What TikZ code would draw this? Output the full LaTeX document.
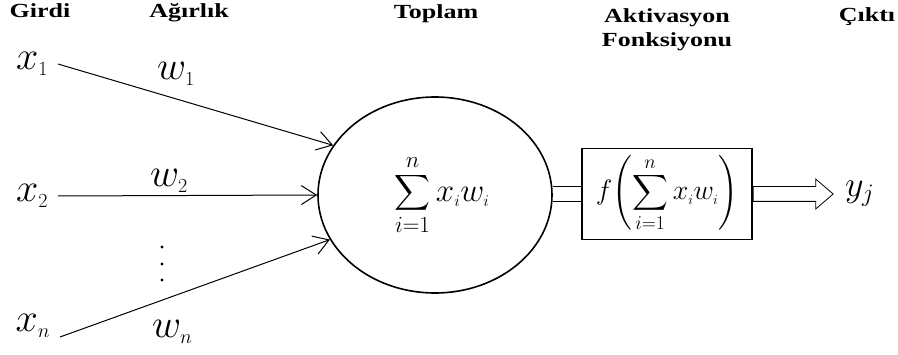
\RequirePackage{fix-cm}
\documentclass[tikz,border=0pt]{standalone}
\usepackage{exscale}
\usepackage{fontspec}
\newfontfamily\hdrfont[FakeStretch=1.3]{Liberation Serif}
\usetikzlibrary{arrows.meta, positioning, shapes.geometric, shapes.arrows}

\begin{document}
\begin{tikzpicture}[x=1pt, y=1pt, >={Straight Barb[length=15pt, width=19pt]},
  hdr/.style={font=\hdrfont\bfseries\fontsize{20}{24}\selectfont, inner sep=0pt},
  big/.style={font=\fontsize{40}{48}\selectfont, inner sep=0pt},
  inlbl/.style={big, anchor=east, outer xsep=10pt, outer ysep=0pt},
  wlbl/.style={big, anchor=base west},
  sumtxt/.style={font=\fontsize{33}{40}\selectfont},
  link/.style={draw=black, line width=0.8pt}]
  \useasboundingbox (0,0) rectangle (898,354);
  % column titles
  \node[hdr, anchor=base] (girdi) at (40,336) {Girdi};
  \node[hdr, anchor=base] (agirlik) at (189,336) {Ağırlık};
  \node[hdr, anchor=base] (toplam) at (436,335) {Toplam};
  \node[hdr, anchor=north, align=center] (aktiv) at (667,346) {Aktivasyon\\Fonksiyonu};
  \node[hdr, anchor=base] (cikti) at (867,332) {Çıktı};
  % summation and activation
  \node[draw, ellipse, line width=1.6pt, minimum width=234pt, minimum height=196pt,
        inner sep=0pt, sumtxt] (sum) at (435,159)
        {\hspace{14pt}$\displaystyle\sum_{i=1}^{n} x_{\scriptscriptstyle i} w_{\scriptscriptstyle i}$};
  \node[draw, line width=1.6pt, minimum width=170pt, minimum height=91pt, inner sep=0pt,
        font=\fontsize{28}{34}\selectfont] (act) at (667,160)
        {$\displaystyle f\!\left(\sum_{i=1}^{n} x_{\scriptscriptstyle i} w_{\scriptscriptstyle i}\right)$};
  \node[single arrow, link, minimum height=80pt, inner xsep=0pt, inner ysep=7pt,
        single arrow head extend=7.5pt, single arrow tip angle=81,
        anchor=tail] (out) at (act.east) {};
  \node[font=\fontsize{36}{42}\selectfont, inner sep=0pt, right=11pt of out.tip] (yj) {$y_j$};
  % inputs
  \node[inlbl] (x1) at (58,290) {$x_{\scriptscriptstyle 1}$};
  \node[inlbl] (x2) at (58,158) {$x_{\scriptscriptstyle 2}$};
  \node[inlbl, anchor=south east] (xn) at (60,17) {$x_{\scriptscriptstyle n}$};
  \node[wlbl] (w1) at (157,274) {$w_{\scriptscriptstyle 1}$};
  \node[wlbl] (w2) at (150,167) {$w_{\scriptscriptstyle 2}$};
  \node[wlbl] (wn) at (152,17) {$w_{\scriptscriptstyle n}$};
  \foreach \y in {74,90,107} \fill (162,\y) circle (1.7pt);
  \draw[->, line width=1pt] (x1.east) -- (sum.154);
  \draw[->, line width=1pt] (x2.east) -- (sum.west);
  \draw[->, line width=1pt] (xn.south east) -- (sum.203);
  \draw[link, double, double distance=13.5pt] (act.west -| sum.east) -- (act.west);
\end{tikzpicture}
\end{document}
